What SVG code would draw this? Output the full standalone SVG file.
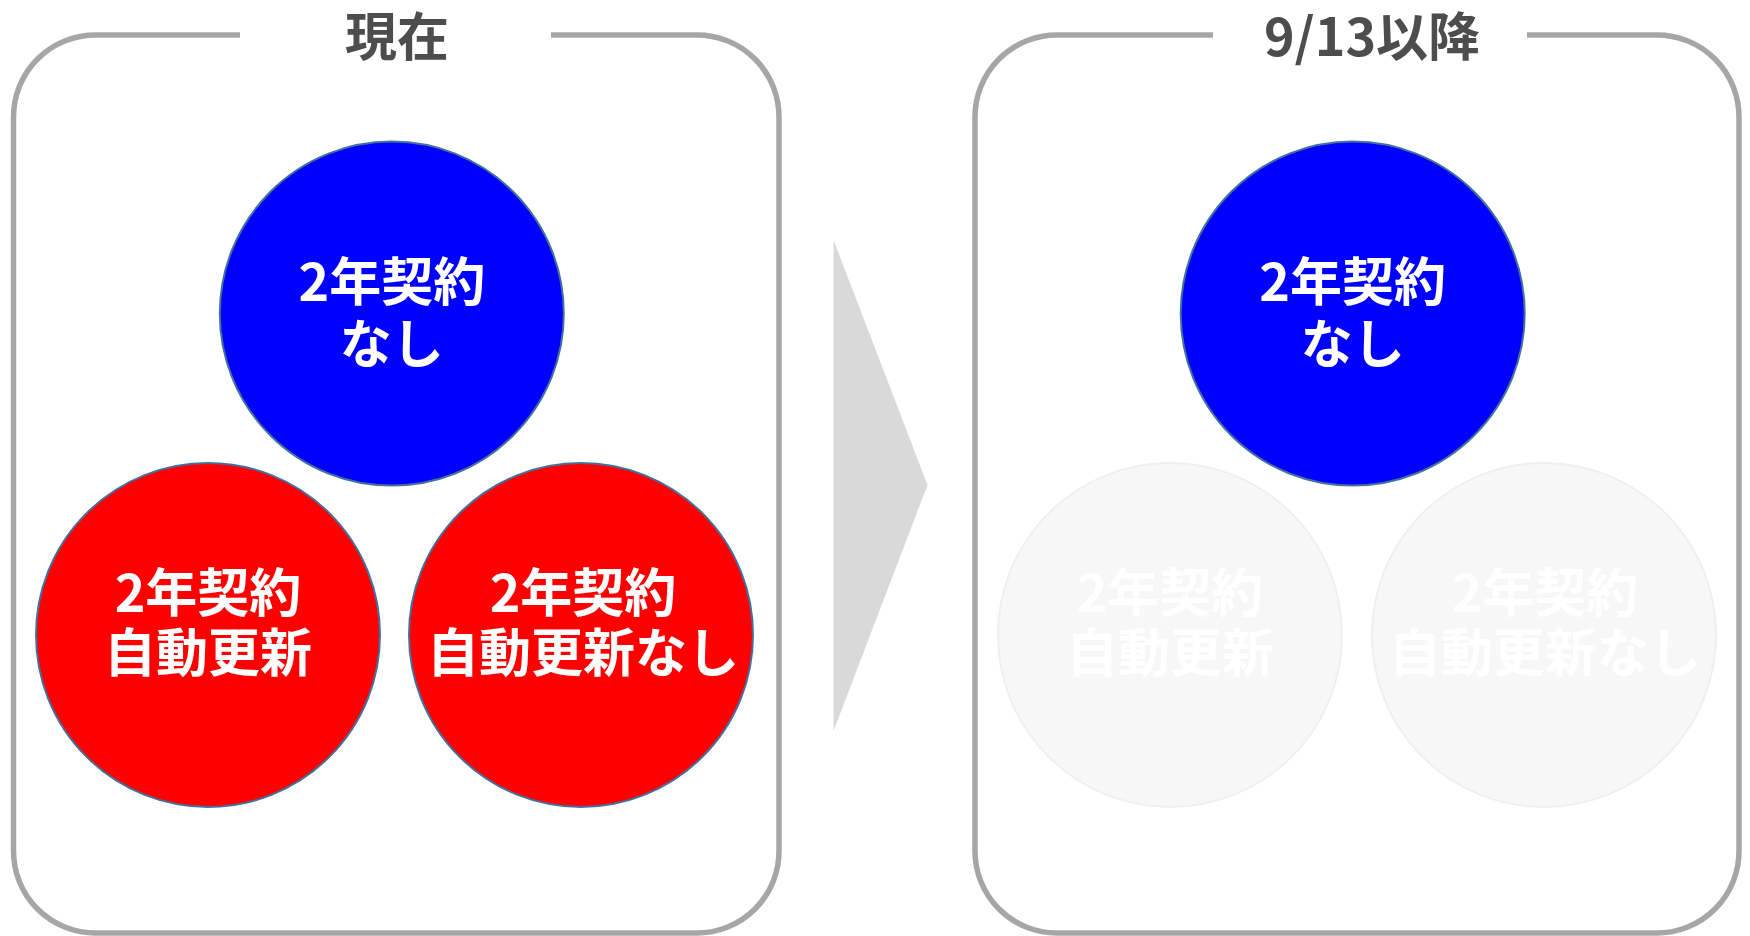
<svg xmlns="http://www.w3.org/2000/svg" width="1750" height="936" viewBox="0 0 1750 936">
<style>
.panel{fill:none;stroke:#A6A6A6;stroke-width:5.5}
.title{font-family:"Noto Sans CJK JP","Noto Sans",sans-serif;font-weight:700;font-size:52px;fill:#4D4D4D;text-anchor:middle}
.lbl{font-family:"Noto Sans CJK JP","Noto Sans",sans-serif;font-weight:700;font-size:52px;fill:#FFFFFF;text-anchor:middle}
.blue{fill:#0000FF;stroke:#41719C;stroke-width:2}
.red{fill:#FF0000;stroke:#41719C;stroke-width:2}
.gray{fill:#F7F7F7;stroke:#EFEFEF;stroke-width:2}
</style>
<rect width="1750" height="936" fill="#FFFFFF"/>
<g id="panel-current">
<path class="panel" d="M 240 35 H 95.5 A 82 82 0 0 0 13.5 117 V 851 A 82 82 0 0 0 95.5 933 H 697 A 82 82 0 0 0 779 851 V 117 A 82 82 0 0 0 697 35 H 551"/>
<text class="title" x="397" y="55.5">現在</text>
</g>
<g id="panel-after">
<path class="panel" d="M 1213 35 H 1057 A 82 82 0 0 0 975 117 V 851 A 82 82 0 0 0 1057 933 H 1657 A 82 82 0 0 0 1739 851 V 117 A 82 82 0 0 0 1657 35 H 1527"/>
<text class="title" x="1372" y="55.5">9/13以降</text>
</g>
<g id="connectors">
<polygon points="833.5,240 927.5,485 833.5,731" fill="#D9D9D9"/>
</g>
<g id="node-current-none">
<circle class="blue" cx="391.8" cy="313.6" r="172"/>
<text class="lbl"><tspan x="391.8" y="301">2年契約</tspan><tspan x="391.8" y="363">なし</tspan></text>
</g>
<g id="node-current-auto">
<circle class="red" cx="208" cy="635" r="172"/>
<text class="lbl"><tspan x="208" y="611.5">2年契約</tspan><tspan x="208" y="672">自動更新</tspan></text>
</g>
<g id="node-current-noauto">
<circle class="red" cx="581" cy="635" r="172"/>
<text class="lbl"><tspan x="583" y="611.5">2年契約</tspan><tspan x="583" y="672">自動更新なし</tspan></text>
</g>
<g id="node-after-none">
<circle class="blue" cx="1352.7" cy="313.6" r="172"/>
<text class="lbl"><tspan x="1352.7" y="301">2年契約</tspan><tspan x="1352.7" y="363">なし</tspan></text>
</g>
<g id="node-after-auto">
<circle class="gray" cx="1170" cy="635" r="172"/>
<text class="lbl"><tspan x="1170" y="611.5">2年契約</tspan><tspan x="1170" y="672">自動更新</tspan></text>
</g>
<g id="node-after-noauto">
<circle class="gray" cx="1544" cy="635" r="172"/>
<text class="lbl"><tspan x="1545" y="611.5">2年契約</tspan><tspan x="1545" y="672">自動更新なし</tspan></text>
</g>
</svg>
